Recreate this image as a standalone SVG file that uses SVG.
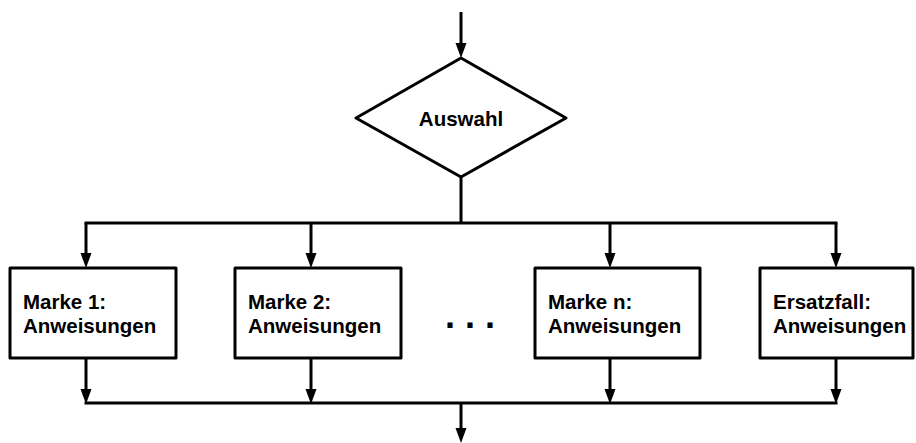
<svg xmlns="http://www.w3.org/2000/svg" width="916" height="443" viewBox="0 0 916 443">
  <style>
    .shape { fill: #ffffff; stroke: #000000; stroke-width: 3; stroke-linejoin: round; }
    .wire { fill: none; stroke: #000000; stroke-width: 3; }
    .arrow { fill: none; stroke: #000000; stroke-width: 3; marker-end: url(#head); }
    .label { font-family: "Liberation Sans", Arial, sans-serif; font-weight: bold; font-size: 20.5px; fill: #000000; }
  </style>
  <defs>
    <!-- arrowhead starts where the line stops; lines end 15px short of the tip -->
    <marker id="head" markerUnits="userSpaceOnUse" markerWidth="15" markerHeight="12" refX="0" refY="6" viewBox="0 0 15 12" orient="auto">
      <path d="M0,0.5 L15,6 L0,11.5 Z" fill="#000000"/>
    </marker>
  </defs>
  <rect width="916" height="443" fill="#ffffff"/>

  <g id="connectors">
    <!-- entry -->
    <path class="arrow" d="M461,12 V43"/>
    <!-- diamond to distribution bus -->
    <path class="wire" d="M461,177 V223"/>
    <path class="wire" d="M84.5,223 H837.5"/>
    <path class="arrow" d="M86,223 V253"/>
    <path class="arrow" d="M311,223 V253"/>
    <path class="arrow" d="M610,223 V253"/>
    <path class="arrow" d="M836,223 V253"/>
    <!-- boxes to collecting bus -->
    <path class="arrow" d="M86,358 V389"/>
    <path class="arrow" d="M311,358 V389"/>
    <path class="arrow" d="M610,358 V389"/>
    <path class="arrow" d="M836,358 V389"/>
    <path class="wire" d="M84.5,403 H837.5"/>
    <!-- exit -->
    <path class="arrow" d="M461,403 V428"/>
  </g>

  <g id="auswahl">
    <polygon class="shape" points="461,58 566,118 461,177 356,118"/>
    <text class="label" x="461" y="126" text-anchor="middle">Auswahl</text>
  </g>

  <g id="marke1">
    <rect class="shape" x="10" y="268" width="166" height="90"/>
    <text class="label" x="23" y="309">Marke 1:</text>
    <text class="label" x="23" y="333">Anweisungen</text>
  </g>

  <g id="marke2">
    <rect class="shape" x="235" y="268" width="166" height="90"/>
    <text class="label" x="248" y="309">Marke 2:</text>
    <text class="label" x="248" y="333">Anweisungen</text>
  </g>

  <g id="ellipsis">
    <text x="445" y="328" font-family="Liberation Sans, Arial, sans-serif" font-weight="bold" font-size="36">. . .</text>
  </g>

  <g id="markeN">
    <rect class="shape" x="535" y="268" width="165" height="90"/>
    <text class="label" x="548" y="309">Marke n:</text>
    <text class="label" x="548" y="333">Anweisungen</text>
  </g>

  <g id="ersatzfall">
    <rect class="shape" x="760" y="268" width="153" height="90"/>
    <text class="label" x="773" y="309">Ersatzfall:</text>
    <text class="label" x="773" y="333">Anweisungen</text>
  </g>
</svg>
